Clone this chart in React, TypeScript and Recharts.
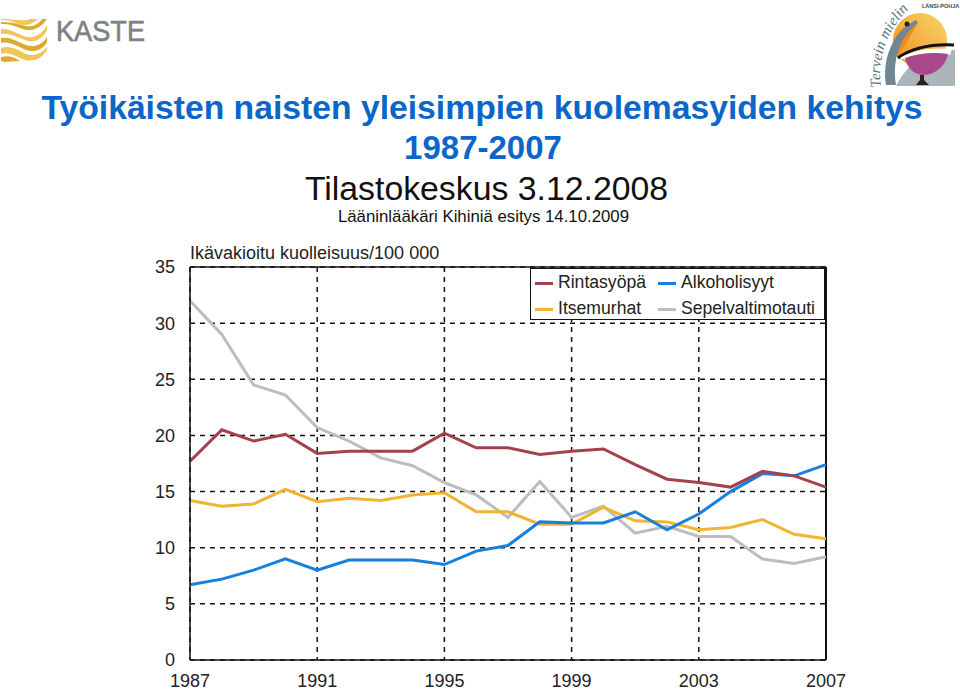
import { LineChart, Line, XAxis, YAxis, CartesianGrid, Legend, ReferenceLine } from "recharts";

const years = [1987, 1988, 1989, 1990, 1991, 1992, 1993, 1994, 1995, 1996, 1997, 1998, 1999, 2000, 2001, 2002, 2003, 2004, 2005, 2006, 2007];
const rintasyopa = [17.7, 20.5, 19.5, 20.1, 18.4, 18.6, 18.6, 18.6, 20.2, 18.9, 18.9, 18.3, 18.6, 18.8, 17.4, 16.1, 15.8, 15.4, 16.8, 16.4, 15.4];
const itsemurhat = [14.2, 13.7, 13.9, 15.2, 14.1, 14.4, 14.2, 14.7, 14.9, 13.2, 13.2, 12.1, 12.1, 13.6, 12.4, 12.3, 11.6, 11.8, 12.5, 11.2, 10.8];
const alkoholisyyt = [6.7, 7.2, 8, 9, 8, 8.9, 8.9, 8.9, 8.5, 9.7, 10.2, 12.3, 12.2, 12.2, 13.2, 11.6, 13, 15, 16.6, 16.4, 17.4];
const sepelvaltimotauti = [32, 29, 24.5, 23.6, 20.7, 19.5, 18, 17.3, 15.8, 14.7, 12.7, 15.9, 12.7, 13.7, 11.3, 11.9, 11, 11, 9, 8.6, 9.2];

const xTicks = [1987, 1991, 1995, 1999, 2003, 2007];
const yTicks = [0, 5, 10, 15, 20, 25, 30, 35];

const RED = "#a5414b";
const BLUE = "#1580de";
const YELLOW = "#f0b430";
const GRAY = "#bdbdbd";

const data = years.map((year, i) => ({
  year,
  rintasyopa: rintasyopa[i],
  itsemurhat: itsemurhat[i],
  alkoholisyyt: alkoholisyyt[i],
  sepelvaltimotauti: sepelvaltimotauti[i],
}));

const legendItems = [
  { name: "Rintasyöpä", color: RED, left: 4, top: 2 },
  { name: "Alkoholisyyt", color: BLUE, left: 127, top: 2 },
  { name: "Itsemurhat", color: YELLOW, left: 4, top: 28 },
  { name: "Sepelvaltimotauti", color: GRAY, left: 127, top: 28 },
];

const FONT = "'Liberation Sans', Arial, sans-serif";

function LegendBox() {
  return (
    <div style={{ position: "relative", width: 295, height: 52, border: "1px solid #111", background: "#fff", boxSizing: "border-box", fontFamily: FONT, fontSize: 17.6, color: "#222" }}>
      {legendItems.map((it) => (
        <div key={it.name} style={{ position: "absolute", left: it.left, top: it.top, height: 22, whiteSpace: "nowrap", lineHeight: "22px", textAlign: "left" }}>
          <span style={{ display: "inline-block", width: 18, height: 3, background: it.color, verticalAlign: "middle", marginRight: 5 }} />
          {it.name}
        </div>
      ))}
    </div>
  );
}

function KasteLogo() {
  const waves = [
    "M1 20 C10 19 18 25 25 25 C30 25 35 22 38 19 L30 19 C26 22 16 19 1 19 Z",
    "M1 24 C14 23 22 31 31 30 C38 29 44 24 47 19 L42 19 C37 26 30 28 22 25 C16 23 8 22 1 22 Z",
    "M1 29 C14 28 22 39 33 37 C40 35 45 30 47 25 L47 30 C43 38 36 43 28 41 C18 38 10 33 1 34 Z",
    "M1 38 C12 36 20 44 30 46 C38 47 44 42 47 37 L47 42 C43 50 34 53 26 50 C16 46 10 41 1 43 Z",
    "M1 48 C10 45 18 50 26 54 C35 57 43 52 47 47 L47 50 C42 59 32 63 22 59 C14 55 8 52 1 54 Z",
    "M1 57 C8 55 14 57 20 61 L4 62 L1 61 Z",
  ];
  return (
    <svg width={160} height={70} style={{ position: "absolute", left: 0, top: 0 }}>
      {waves.map((d, i) => (
        <path key={i} d={d} fill={i % 2 ? "#dcaa2e" : "#eec65a"} />
      ))}
      <text x={56} y={41} fontFamily={FONT} fontSize={29} fill="#7d8285" stroke="#7d8285" strokeWidth={0.6} textLength={89} lengthAdjust="spacingAndGlyphs">KASTE</text>
    </svg>
  );
}

function MieliLogo() {
  return (
    <svg width={100} height={90} style={{ position: "absolute", left: 860, top: 0 }}>
      <defs>
        <linearGradient id="sun" x1="1" y1="0" x2="0" y2="1">
          <stop offset="0%" stopColor="#f9d568" />
          <stop offset="100%" stopColor="#ef8f22" />
        </linearGradient>
        <path id="arc" d="M21 87 C17 60 26 28 56 2" />
      </defs>
      <circle cx={60} cy={40} r={27} fill="url(#sun)" />
      <path d="M33 42 C38 30 46 23 58 22 C52 34 44 46 38 58 C35 54 33 48 33 42 Z" fill="#ee8a22" />
      <path d="M26 85 C22 60 32 32 56 20 L58 23 C40 36 32 60 36 85 Z" fill="#6f8793" />
      <path d="M36 86 L95 86 L95 50 C70 48 48 62 36 86 Z" fill="#aab4b9" />
      <circle cx={47} cy={24} r={2.5} fill="#222" />
      <path d="M38 58 C52 48 72 44 94 45" stroke="#111" strokeWidth={3} fill="none" />
      <path d="M40 58 C52 50 72 47 92 49 L90 55 C72 52 58 54 46 60 Z" fill="#fff" />
      <path d="M45 58 C58 53 74 52 88 54 C86 66 74 75 64 75 C54 75 47 68 45 58 Z" fill="#a9498c" />
      <path d="M60 75 L60 80 L56 85 L69 85 L64 80 L64 75 Z" fill="#222" />
      <text fontFamily="'Liberation Serif', serif" fontStyle="italic" fontSize={15} fill="#5b7380">
        <textPath href="#arc">Tervein mielin</textPath>
      </text>
      <text x={62} y={8} fontFamily={FONT} fontWeight="bold" fontSize={5.5} fill="#444">LÄNSI-POHJA</text>
    </svg>
  );
}

function Heading({ text, top, size, color, bold, center }: { text: string; top: number; size: number; color: string; bold?: boolean; center: number }) {
  return (
    <div style={{ position: "absolute", left: 0, width: center * 2, top, textAlign: "center", fontFamily: FONT, fontSize: size, fontWeight: bold ? "bold" : "normal", color, lineHeight: 1, whiteSpace: "nowrap" }}>
      {text}
    </div>
  );
}

const tickStyle = { fontFamily: FONT, fontSize: 18, fill: "#222" };

export default function App() {
  return (
    <div style={{ position: "absolute", left: 0, top: 0, width: 960, height: 690, background: "#fff", overflow: "hidden" }}>
      <KasteLogo />
      <MieliLogo />
      <Heading text="Työikäisten naisten yleisimpien kuolemasyiden kehitys" top={91} size={33.7} color="#0a66c8" bold center={482} />
      <Heading text="1987-2007" top={131} size={33} color="#0a66c8" bold center={483} />
      <Heading text="Tilastokeskus 3.12.2008" top={172} size={33.8} color="#111" center={486.5} />
      <Heading text="Lääninlääkäri Kihiniä esitys 14.10.2009" top={209} size={16.8} color="#111" center={483.5} />
      <div style={{ position: "absolute", left: 190, top: 243, fontFamily: FONT, fontSize: 18, color: "#222", whiteSpace: "nowrap" }}>
        Ikävakioitu kuolleisuus/100 000
      </div>
      <LineChart
        width={960}
        height={690}
        data={data}
        margin={{ top: 267, right: 134, bottom: 0, left: 150 }}
        style={{ position: "absolute", left: 0, top: 0 }}
      >
        <CartesianGrid stroke="#111" strokeWidth={1.5} strokeDasharray="5 5" />
        <XAxis
          dataKey="year"
          type="number"
          domain={[1987, 2007]}
          ticks={xTicks}
          height={30}
          interval={0}
          tickLine={false}
          axisLine={{ stroke: "#111", strokeWidth: 1.5 }}
          tick={tickStyle}
          tickMargin={8}
        />
        <YAxis
          type="number"
          domain={[0, 35]}
          ticks={yTicks}
          width={40}
          interval={0}
          tickLine={false}
          axisLine={{ stroke: "#111", strokeWidth: 1.5 }}
          tick={tickStyle}
          tickMargin={9}
        />
        <ReferenceLine y={35} stroke="#111" strokeWidth={1.5} />
        <ReferenceLine x={2007} stroke="#111" strokeWidth={2} />
        <Line dataKey="sepelvaltimotauti" stroke={GRAY} strokeWidth={3} dot={false} isAnimationActive={false} />
        <Line dataKey="itsemurhat" stroke={YELLOW} strokeWidth={3} dot={false} isAnimationActive={false} />
        <Line dataKey="alkoholisyyt" stroke={BLUE} strokeWidth={3} dot={false} isAnimationActive={false} />
        <Line dataKey="rintasyopa" stroke={RED} strokeWidth={3} dot={false} isAnimationActive={false} />
        <Legend
          layout="vertical"
          align="center"
          verticalAlign="middle"
          content={<LegendBox />}
          wrapperStyle={{ position: "absolute", left: 530, top: 268, right: "auto", bottom: "auto", width: 295, height: 52 }}
        />
      </LineChart>
    </div>
  );
}
